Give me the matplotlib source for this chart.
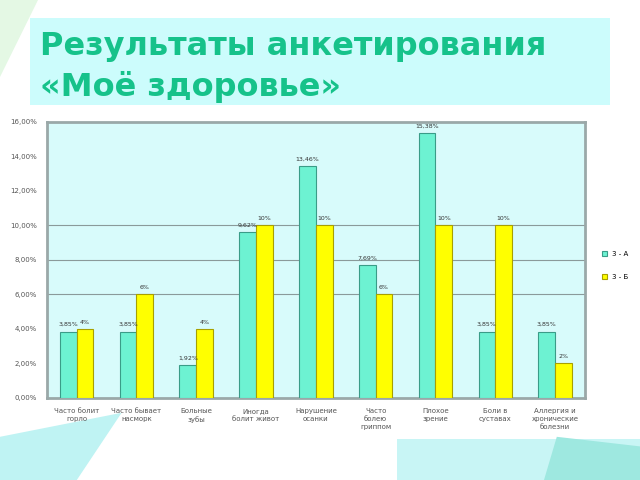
import matplotlib.pyplot as plt
import numpy as np
from matplotlib.patches import Polygon, Rectangle

# Данные анкеты
categories = [
    "Часто болит\nгорло",
    "Часто бывает\nнасморк",
    "Больные\nзубы",
    "Иногда\nболит живот",
    "Нарушение\nосанки",
    "Часто\nболею\nгриппом",
    "Плохое\nзрение",
    "Боли в\nсуставах",
    "Аллергия и\nхронические\nболезни",
]
class_a = [3.85, 3.85, 1.92, 9.62, 13.46, 7.69, 15.38, 3.85, 3.85]
class_b = [4, 6, 4, 10, 10, 6, 10, 10, 2]
labels_a = ["3,85%", "3,85%", "1,92%", "9,62%", "13,46%", "7,69%", "15,38%", "3,85%", "3,85%"]
labels_b = ["4%", "6%", "4%", "10%", "10%", "6%", "10%", "10%", "2%"]
series_names = ["3 - А", "3 - Б"]
y_ticks = [0, 2, 4, 6, 8, 10, 12, 14, 16]

fig = plt.figure(figsize=(6.4, 4.8), dpi=100)
fig.patch.set_facecolor("white")

#   декоративный фон слайда
deco = [
    Polygon([[0.0, 0.0], [0.0, 0.09], [0.19, 0.14], [0.12, 0.0]], closed=True,
            facecolor="#bff3f3"),
    Rectangle((0.62, 0.0), 0.38, 0.085, facecolor="#c8f5f5"),
    Polygon([[0.85, 0.0], [0.87, 0.09], [1.0, 0.07], [1.0, 0.0]], closed=True,
            facecolor="#9ee8e0"),
    Polygon([[0.0, 0.84], [0.0, 1.0], [0.06, 1.0]], closed=True,
            facecolor="#e4f8e4"),
]
for p in deco:
    p.set_transform(fig.transFigure)
    p.set_edgecolor("none")
    p.set_zorder(-2)
    fig.patches.append(p)

#   заголовок
title_box = Rectangle((0.047, 0.782), 0.906, 0.18, transform=fig.transFigure,
                      facecolor="#ccfcfc", edgecolor="none", zorder=-1)
fig.patches.append(title_box)
fig.text(0.062, 0.903, "Результаты анкетирования", fontsize=23, fontweight="bold",
         color="#16c28a", va="center")
fig.text(0.062, 0.818, "«Моё здоровье»", fontsize=23, fontweight="bold",
         color="#16c28a", va="center")

ax = fig.add_axes([0.073, 0.171, 0.841, 0.575])
ax.set_facecolor("#d8fbfb")

x = np.arange(len(categories))
w = 0.28
bars_a = ax.bar(x - w / 2, class_a, w, color="#6df2d2", edgecolor="#3a9c88",
                linewidth=0.8, label=series_names[0], zorder=3)
bars_b = ax.bar(x + w / 2, class_b, w, color="#ffff00", edgecolor="#a8a000",
                linewidth=0.8, label=series_names[1], zorder=3)

for b, t in zip(bars_a, labels_a):
    ax.text(b.get_x() + b.get_width() / 2, b.get_height() + 0.25, t,
            ha="center", va="bottom", fontsize=4.5, color="#333333")
for b, t in zip(bars_b, labels_b):
    ax.text(b.get_x() + b.get_width() / 2, b.get_height() + 0.25, t,
            ha="center", va="bottom", fontsize=4.5, color="#333333")

for yv in [6, 8, 10]:
    ax.axhline(yv, color="#8a9a9a", linewidth=0.8, zorder=1)

ax.set_xlim(-0.5, len(categories) - 0.5)
ax.set_ylim(0, 16)
ax.set_yticks(y_ticks)
ax.set_yticklabels([f"{v},00%" for v in y_ticks], fontsize=5, color="#555555")
ax.set_xticks(x)
ax.set_xticklabels(categories, fontsize=5, color="#555555", linespacing=1.4)
ax.tick_params(length=0, pad=7)
for s in ax.spines.values():
    s.set_color("#9aa8a8")
    s.set_linewidth(2)

ax.legend(loc="center left", bbox_to_anchor=(1.02, 0.48), frameon=False,
          fontsize=5, handlelength=0.7, handleheight=0.7, labelspacing=2.5)

plt.savefig("out.png", dpi=100)
plt.close()
